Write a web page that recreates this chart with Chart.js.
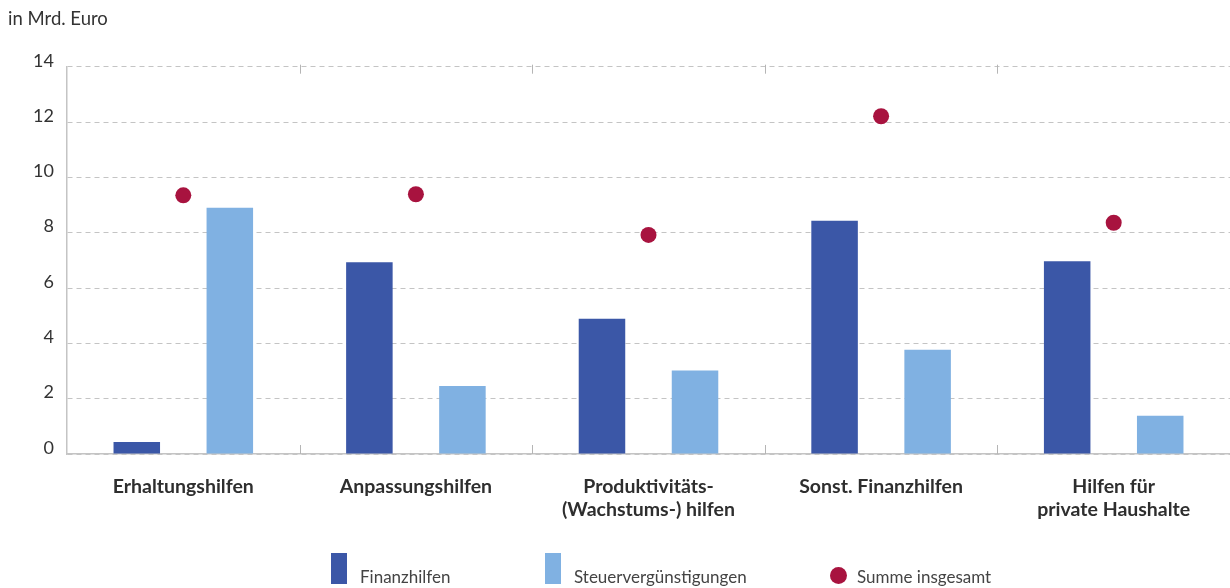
<!DOCTYPE html>
<html lang="de">
<head>
<meta charset="utf-8">
<title>Finanzhilfen und Steuervergünstigungen</title>
<script src="https://cdn.jsdelivr.net/npm/chart.js@4.4.1/dist/chart.umd.min.js"></script>
<style>
  html, body { margin: 0; padding: 0; background: #ffffff; }
  #wrap { position: relative; width: 1230px; height: 588px; overflow: hidden; }
  #chart { position: absolute; left: 0; top: 0; }
  #legend {
    position: absolute; left: 0; top: 552px; width: 1230px; height: 32px;
    font-family: Lato, "Open Sans", sans-serif; font-size: 17px; color: #444;
  }
  .item { position: absolute; top: 0; height: 32px; display: flex; align-items: flex-end; }
  .swatch { width: 16px; height: 31px; margin-right: 13px; }
  .dot { width: 17px; height: 17px; border-radius: 50%; margin-right: 10px; margin-bottom: 0px; }
  .item span { line-height: 18px; margin-bottom: -2px; white-space: nowrap; }
</style>
</head>
<body>
<div id="wrap">
  <canvas id="chart" width="1230" height="588"></canvas>
  <div id="legend"></div>
</div>
<script>
// Kategorien der Subventionen
const categories = [
  "Erhaltungshilfen",
  "Anpassungshilfen",
  ["Produktivitäts-", "(Wachstums-) hilfen"],
  "Sonst. Finanzhilfen",
  ["Hilfen für", "private Haushalte"]
];

// Werte in Mrd. Euro
const finanzhilfen = [0.43, 6.93, 4.89, 8.43, 6.97];
const steuerverguenstigungen = [8.90, 2.46, 3.02, 3.77, 1.38];
const summeInsgesamt = [9.35, 9.39, 7.92, 12.21, 8.36];

const yTicks = [0, 2, 4, 6, 8, 10, 12, 14];

const seriesNames = ["Finanzhilfen", "Steuervergünstigungen", "Summe insgesamt"];
const colors = { finanz: "#3b57a7", steuer: "#80b1e2", summe: "#a8133f" };

const FONT = "Lato, 'Open Sans', sans-serif";
const gridColor = "#c4c4c4";

// short vertical marks at the category boundaries, at the base line and the top grid line
const boundaryMarks = {
  id: "boundaryMarks",
  afterDatasetsDraw(chart) {
    const x = chart.scales.x;
    const area = chart.chartArea;
    const ctx = chart.ctx;
    ctx.save();
    ctx.strokeStyle = "#b5b5b5";
    ctx.lineWidth = 1;
    for (let i = 1; i < categories.length; i++) {
      const px = Math.round((x.getPixelForValue(i - 1) + x.getPixelForValue(i)) / 2) + 0.5;
      ctx.beginPath();
      ctx.moveTo(px, area.bottom - 9);
      ctx.lineTo(px, area.bottom);
      ctx.moveTo(px, area.top - 2);
      ctx.lineTo(px, area.top + 7);
      ctx.stroke();
    }
    ctx.restore();
  }
};

const chart = new Chart(document.getElementById("chart"), {
  type: "bar",
  data: {
    labels: categories,
    datasets: [
      {
        type: "line",
        label: seriesNames[2],
        data: summeInsgesamt,
        showLine: false,
        pointRadius: 8,
        pointHoverRadius: 8,
        pointBackgroundColor: colors.summe,
        pointBorderWidth: 0,
        borderColor: colors.summe,
        backgroundColor: colors.summe,
        order: 0
      },
      {
        label: seriesNames[0],
        data: finanzhilfen,
        backgroundColor: colors.finanz,
        categoryPercentage: 0.8,
        barPercentage: 0.5,
        order: 1
      },
      {
        label: seriesNames[1],
        data: steuerverguenstigungen,
        backgroundColor: colors.steuer,
        categoryPercentage: 0.8,
        barPercentage: 0.5,
        order: 1
      }
    ]
  },
  options: {
    responsive: false,
    animation: false,
    layout: { autoPadding: false, padding: { left: 8, right: -6, top: 0, bottom: 54 } },
    plugins: {
      legend: { display: false },
      tooltip: { enabled: false },
      title: {
        display: true,
        text: "in Mrd. Euro",
        align: "start",
        color: "#333",
        font: { family: FONT, size: 18.5, weight: "normal" },
        padding: { top: 8, bottom: 36.5 }
      }
    },
    scales: {
      x: {
        grid: { display: false, drawTicks: false },
        border: { display: true, color: gridColor, width: 1.5 },
        ticks: {
          color: "#2e2e2e",
          padding: 21.5,
          maxRotation: 0,
          autoSkip: false,
          font: { family: FONT, size: 19.5, weight: "bold", lineHeight: 1.18 }
        },
        afterFit(scale) { scale.height = 80; }
      },
      y: {
        min: 0,
        max: 14,
        afterBuildTicks(scale) { scale.ticks = yTicks.map(v => ({ value: v })); },
        grid: {
          color: gridColor,
          lineWidth: 1,
          drawTicks: false
        },
        // in Chart.js v4 border.dash styles the grid lines; the axis line itself stays solid
        border: { display: true, color: gridColor, width: 1.5, dash: [5, 4] },
        ticks: {
          color: "#333",
          padding: 13,
          labelOffset: -6,
          font: { family: FONT, size: 18 }
        },
        afterFit(scale) { scale.width = 59; }
      }
    }
  },
  plugins: [boundaryMarks]
});

// legend row built from the chart's datasets
(function buildLegend() {
  const legend = document.getElementById("legend");
  const lefts = [331, 545, 830];
  const byName = {};
  chart.data.datasets.forEach(ds => { byName[ds.label] = ds; });
  seriesNames.forEach((name, i) => {
    const ds = byName[name];
    const item = document.createElement("div");
    item.className = "item";
    item.style.left = lefts[i] + "px";
    const mark = document.createElement("div");
    mark.className = ds.type === "line" ? "dot" : "swatch";
    mark.style.background = ds.backgroundColor;
    const txt = document.createElement("span");
    txt.textContent = name;
    item.appendChild(mark);
    item.appendChild(txt);
    legend.appendChild(item);
  });
})();
</script>
</body>
</html>
